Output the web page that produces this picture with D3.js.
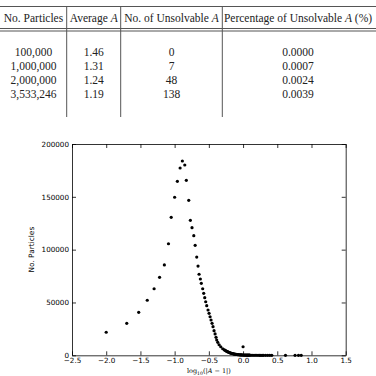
<!DOCTYPE html>
<html>
<head>
<meta charset="utf-8">
<script src="https://cdn.jsdelivr.net/npm/d3@7"></script>
<style>
body { margin: 0; background: #fff; }
.tbl text { font-family: "Liberation Serif", serif; font-size: 11.5px; fill: #222; }
.rule { stroke: #555; stroke-width: 1; }
.axis text { font-family: "DejaVu Sans", sans-serif; font-size: 7.2px; fill: #000; }
.axis path, .axis line { stroke: #000; stroke-width: 0.8; }
.dot { fill: #000; }
</style>
</head>
<body>
<svg class="chart" width="376" height="376"></svg>
<script>
// Table values
const headers = ["No. Particles", "Average A", "No. of Unsolvable A", "Percentage of Unsolvable A (%)"];
const particles = ["100,000", "1,000,000", "2,000,000", "3,533,246"];
const averageA = ["1.46", "1.31", "1.24", "1.19"];
const unsolvable = ["0", "7", "48", "138"];
const percentUnsolvable = ["0.0000", "0.0007", "0.0024", "0.0039"];

// Scatter values: log10(|A-1|) and number of particles
const logA = [
    -2.0, -1.7, -1.525, -1.4, -1.3, -1.22, -1.15, -1.09, -1.05, -1.0,
    -0.96, -0.92, -0.887, -0.852, -0.829, -0.794, -0.77, -0.746, -0.72, -0.70,
    -0.677, -0.658, -0.643, -0.624, -0.61, -0.59, -0.575, -0.56, -0.546, -0.531,
    -0.512, -0.497, -0.482, -0.468, -0.453, -0.439, -0.424, -0.409, -0.395, -0.385,
    -0.37, -0.35, -0.326, -0.297, -0.275, -0.263, -0.25, -0.24, -0.23, -0.22,
    -0.21, -0.20, -0.19, -0.18, -0.17, -0.16, -0.15, -0.14, -0.13, -0.12,
    -0.11, -0.10, -0.09, -0.08, -0.07, -0.06, -0.05, -0.04, -0.03, -0.02,
    -0.01, 0.0, 0.01, 0.02, 0.03, 0.04, 0.05, 0.06, 0.07, 0.08,
    0.09, 0.10, 0.12, 0.14, 0.16, 0.18, 0.20, 0.22, 0.24, 0.26,
    0.28, 0.30, 0.33, 0.36, 0.39, 0.42, 0.62, 0.76, 0.81, 0.85,
    0.0
];
const counts = [
    21800, 30300, 40700, 52100, 63000, 73800, 85500, 105600, 130600, 149600,
    164700, 177300, 183900, 180100, 165600, 146700, 127800, 120800, 113200, 104100,
    93000, 84500, 76700, 72200, 68100, 63000, 58700, 54500, 50700, 47000,
    42900, 39700, 36500, 33400, 30300, 27100, 23300, 20200, 17000, 14500,
    12300, 10000, 8100, 6200, 5200, 4700, 4200, 3800, 3500, 3200,
    2900, 2600, 2300, 2100, 1900, 1700, 1500, 1350, 1200, 1050,
    950, 850, 750, 680, 600, 540, 480, 430, 380, 340,
    300, 270, 240, 215, 190, 170, 150, 135, 120, 105,
    95, 85, 70, 58, 48, 40, 33, 27, 22, 18,
    15, 12, 9, 7, 5, 4, 2, 1, 1, 1,
    8100
];
const xTicks = [-2.5, -2.0, -1.5, -1.0, -0.5, 0.0, 0.5, 1.0, 1.5];
const yTicks = [0, 50000, 100000, 150000, 200000];

const svg = d3.select(".chart");

// ---- table ----
const tbl = svg.append("g").attr("class", "tbl");
const colEdges = [0, 66.7, 120.7, 222.3, 376];
const colCenters = [33.5, 93.7, 171.5, 298];
const rows = d3.range(particles.length).map(i => [particles[i], averageA[i], unsolvable[i], percentUnsolvable[i]]);

tbl.append("line").attr("class", "rule").attr("x1", 0).attr("x2", 376).attr("y1", 6.5).attr("y2", 6.5);
tbl.append("line").attr("class", "rule").attr("x1", 0).attr("x2", 376).attr("y1", 28.5).attr("y2", 28.5);
tbl.append("line").attr("class", "rule").attr("x1", 0).attr("x2", 376).attr("y1", 31).attr("y2", 31);

tbl.selectAll(".vrule")
    .data(colEdges.slice(1, 4))
    .enter().append("line")
    .attr("class", "rule vrule")
    .attr("x1", d => d).attr("x2", d => d)
    .attr("y1", 6.5).attr("y2", 117);

// header, italic A
headers.forEach((h, i) => {
    const t = tbl.append("text")
        .attr("x", colCenters[i])
        .attr("y", 22)
        .attr("text-anchor", "middle");
    const parts = h.split(/(?<= )A(?=$| )/);
    parts.forEach((p, j) => {
        t.append("tspan").text(p);
        if (j < parts.length - 1) t.append("tspan").attr("font-style", "italic").text("A");
    });
});

rows.forEach((r, i) => {
    tbl.selectAll(null)
        .data(r)
        .enter().append("text")
        .attr("x", (d, j) => colCenters[j])
        .attr("y", 55.5 + i * 14.2)
        .attr("text-anchor", "middle")
        .text(d => d);
});

// ---- scatter ----
const margin = { top: 144, right: 30.3, bottom: 20.7, left: 72 },
    width = 376 - margin.left - margin.right,
    height = 376 - margin.top - margin.bottom,
    g = svg.append("g").attr("transform", `translate(${margin.left},${margin.top})`);

const x = d3.scaleLinear().domain([-2.5, 1.5]).range([0, width]);
const y = d3.scaleLinear().domain([0, 200000]).range([height, 0]);

const fmtX = d => d3.format(".1f")(d).replace("-", "\u2212");

g.append("g")
    .attr("class", "axis axis--x")
    .attr("transform", `translate(0,${height})`)
    .call(d3.axisBottom(x).tickValues(xTicks).tickFormat(fmtX).tickSizeInner(-4).tickSizeOuter(0).tickPadding(3));

g.append("g")
    .attr("class", "axis axis--x2")
    .call(d3.axisTop(x).tickValues(xTicks).tickFormat("").tickSizeInner(-4).tickSizeOuter(0));

g.append("g")
    .attr("class", "axis axis--y")
    .call(d3.axisLeft(y).tickValues(yTicks).tickFormat(d3.format("d")).tickSizeInner(-4).tickSizeOuter(0).tickPadding(3));

g.append("g")
    .attr("class", "axis axis--y2")
    .attr("transform", `translate(${width},0)`)
    .call(d3.axisRight(y).tickValues(yTicks).tickFormat("").tickSizeInner(-4).tickSizeOuter(0));

g.selectAll(".axis text").attr("dy", null);
g.select(".axis--x").selectAll("text").attr("dy", "0.71em");
g.select(".axis--y").selectAll("text").attr("dy", "0.32em");

g.selectAll(".dot")
    .data(logA.map((v, i) => ({ lx: v, n: counts[i] })))
    .enter().append("circle")
    .attr("class", "dot")
    .attr("cx", d => x(d.lx))
    .attr("cy", d => y(d.n))
    .attr("r", 1.6);

// axis labels
g.append("text")
    .attr("transform", `translate(${-38},${height / 2}) rotate(-90)`)
    .attr("text-anchor", "middle")
    .style("font-family", "DejaVu Sans, sans-serif")
    .style("font-size", "7.4px")
    .text("No. Particles");

const xl = g.append("text")
    .attr("x", width / 2)
    .attr("y", height + 18)
    .attr("text-anchor", "middle")
    .style("font-family", "DejaVu Serif, serif")
    .style("font-size", "6.5px");
xl.append("tspan").text("log");
xl.append("tspan").attr("dy", 1.8).style("font-size", "4.6px").text("10");
xl.append("tspan").attr("dy", -1.8).text("(|");
xl.append("tspan").attr("font-style", "italic").text("A");
xl.append("tspan").text(" \u2212 1|)");
</script>
</body>
</html>
